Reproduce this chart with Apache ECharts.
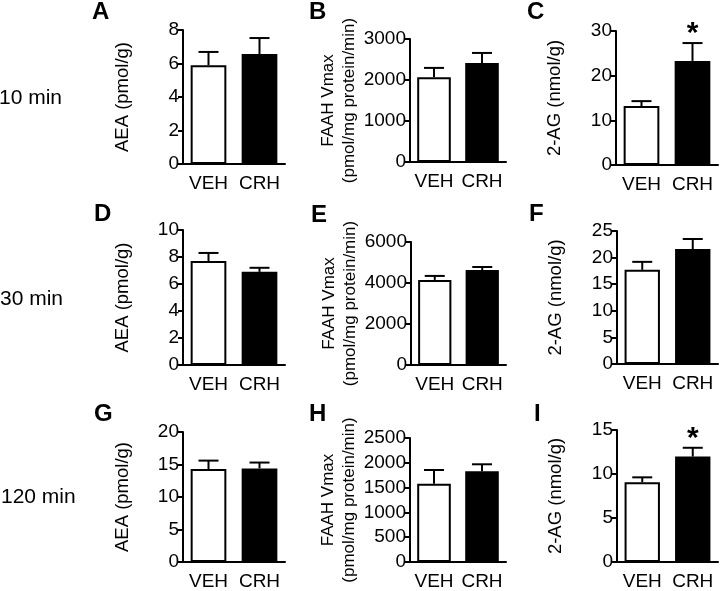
<!DOCTYPE html>
<html><head><meta charset="utf-8">
<script src="https://cdn.jsdelivr.net/npm/echarts@6/dist/echarts.min.js"></script>
<style>html,body{margin:0;padding:0;background:#fff}#c{width:720px;height:591px}</style>
</head><body><div id="c"></div>
<script>
// ---------- data ----------
const categories = ['VEH', 'CRH'];
const rowLabels = ['10 min', '30 min', '120 min'];
const panelLetters = ['A', 'B', 'C', 'D', 'E', 'F', 'G', 'H', 'I'];
const yTitles = ['AEA (pmol/g)', 'FAAH Vmax\n(pmol/mg protein/min)', '2-AG (nmol/g)'];
// means and SEM (upper error bar) per panel
const meanA = [5.9, 6.57];   const semA = [0.79, 0.95];
const meanB = [2070, 2415];  const semB = [225, 245];
const meanC = [13.2, 23.3];  const semC = [1.1, 4.0];
const meanD = [7.7, 6.9];    const semD = [0.6, 0.3];
const meanE = [4150, 4630];  const semE = [195, 150];
const meanF = [17.7, 21.6];  const semF = [1.5, 1.9];
const meanG = [14.3, 14.4];  const semG = [1.3, 0.9];
const meanH = [1580, 1830];  const semH = [275, 140];
const meanI = [9.07, 11.98]; const semI = [0.55, 1.0];
const sigA = ['', ''], sigB = ['', ''], sigC = ['', '*'];
const sigD = ['', ''], sigE = ['', ''], sigF = ['', ''];
const sigG = ['', ''], sigH = ['', ''], sigI = ['', '*'];
// y-axis scales (tick labels)
const yMax  = [8, 3000, 30, 10, 6000, 25, 20, 2500, 15];
const yStep = [2, 1000, 10, 2, 2000, 5, 5, 500, 5];

// ---------- layout / style ----------
const FONT = '"Liberation Sans", Arial, Helvetica, sans-serif';
const gridBoxes = [
  [183, 30, 102, 134], [410, 39, 96, 123], [616, 31, 102, 134],
  [183, 230, 102, 135], [411, 242, 95, 123], [617, 231, 101, 133],
  [183, 432, 102, 133], [410, 438, 96, 124], [617, 430, 101, 134]
];
const letterPos = [[92, 13], [309, 13], [527, 13], [94, 215], [311, 216], [529, 215], [94, 415], [309, 415], [534, 415]];
const rowLabelPos = [[-1, 100], [0, 301], [1, 499]];
const nameGaps = [51, 40, 52];
const barFill = ['#ffffff', '#000000'];

const means = [meanA, meanB, meanC, meanD, meanE, meanF, meanG, meanH, meanI];
const sems  = [semA, semB, semC, semD, semE, semF, semG, semH, semI];
const sigs  = [sigA, sigB, sigC, sigD, sigE, sigF, sigG, sigH, sigI];

function errorRenderer(sig) {
  return function (params, api) {
    const xi = api.value(0), m = api.value(1), s = api.value(2);
    const base = api.coord([xi, m]);
    const top = api.coord([xi, m + s]);
    const half = 10;
    const children = [
      { type: 'line', shape: { x1: top[0], y1: base[1], x2: top[0], y2: top[1] }, style: { stroke: '#000', lineWidth: 2 } },
      { type: 'line', shape: { x1: top[0] - half, y1: top[1], x2: top[0] + half, y2: top[1] }, style: { stroke: '#000', lineWidth: 2 } }
    ];
    const mark = sig[params.dataIndex];
    if (mark) {
      children.push({ type: 'text', x: top[0], y: top[1] - 9,
        style: { text: mark, fontSize: 30, fontWeight: 'bold', fontFamily: FONT, align: 'center', verticalAlign: 'middle', fill: '#000' } });
    }
    return { type: 'group', children };
  };
}

const grid = [], xAxis = [], yAxis = [], series = [], graphic = [];
for (let i = 0; i < 9; i++) {
  const col = i % 3;
  const g = gridBoxes[i];
  grid.push({ left: g[0], top: g[1], width: g[2], height: g[3], containLabel: false });
  xAxis.push({
    type: 'category', gridIndex: i, data: categories,
    axisLine: { lineStyle: { color: '#000', width: 2 } },
    axisTick: { show: false },
    axisLabel: { color: '#000', fontSize: 19, fontFamily: FONT, margin: 10, interval: 0 }
  });
  yAxis.push({
    type: 'value', gridIndex: i, min: 0, max: yMax[i], interval: yStep[i],
    splitLine: { show: false },
    axisLine: { show: true, lineStyle: { color: '#000', width: 2 } },
    axisTick: { show: true, length: 5, lineStyle: { color: '#000', width: 2 } },
    axisLabel: { color: '#000', fontSize: 19, fontFamily: FONT, margin: 4, formatter: v => String(v) },
    name: yTitles[col], nameLocation: 'middle', nameRotate: 90, nameGap: nameGaps[col],
    nameTextStyle: col === 1
      ? { color: '#000', fontSize: 17, fontFamily: FONT, lineHeight: 21 }
      : { color: '#000', fontSize: 18.5, fontFamily: FONT }
  });
  series.push({
    type: 'bar', xAxisIndex: i, yAxisIndex: i, barWidth: '70%',
    data: means[i].map((v, k) => ({ value: v, itemStyle: { color: barFill[k] } })),
    itemStyle: { borderColor: '#000', borderWidth: 2 },
    silent: true, animation: false
  });
  series.push({
    type: 'custom', xAxisIndex: i, yAxisIndex: i, z: 5,
    renderItem: errorRenderer(sigs[i]),
    data: means[i].map((v, k) => [k, v, sems[i][k]]),
    encode: { x: 0, y: 1 }, animation: false, silent: true
  });
  graphic.push({ type: 'text', left: letterPos[i][0], top: letterPos[i][1] - 13,
    style: { text: panelLetters[i], fontSize: 24, fontWeight: 'bold', fontFamily: FONT, fill: '#000' } });
}
rowLabels.forEach((t, r) => {
  graphic.push({ type: 'text', left: rowLabelPos[r][0], top: rowLabelPos[r][1] - 12,
    style: { text: t, fontSize: 21, fontFamily: FONT, fill: '#000' } });
});

const chart = echarts.init(document.getElementById('c'), null, { renderer: 'canvas' });
chart.setOption({ animation: false, backgroundColor: '#fff', textStyle: { fontFamily: FONT }, grid, xAxis, yAxis, series, graphic });
</script></body></html>
